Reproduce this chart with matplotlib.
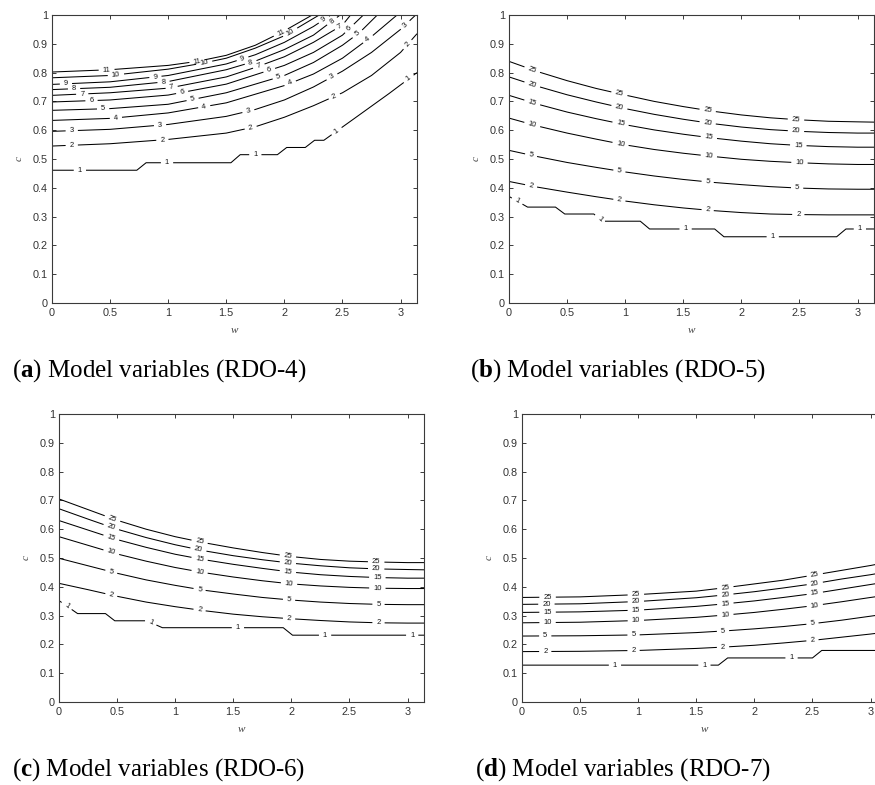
import numpy as np
import matplotlib
matplotlib.use('Agg')
import matplotlib.pyplot as plt
from matplotlib.contour import ContourSet

plt.rcParams['font.family'] = ['Liberation Sans', 'DejaVu Sans']
plt.rcParams['mathtext.fontset'] = 'custom'
plt.rcParams['mathtext.rm'] = 'Liberation Serif'
plt.rcParams['mathtext.it'] = 'Liberation Serif:italic'
plt.rcParams['mathtext.bf'] = 'Liberation Serif:bold'

W_END = np.pi
x_ticks = [0, 0.5, 1, 1.5, 2, 2.5, 3]
x_tick_labels = ['0', '0.5', '1', '1.5', '2', '2.5', '3']
y_ticks = [0, 0.1, 0.2, 0.3, 0.4, 0.5, 0.6, 0.7, 0.8, 0.9, 1]
y_tick_labels = ['0', '0.1', '0.2', '0.3', '0.4', '0.5', '0.6', '0.7', '0.8', '0.9', '1']
captions = ['a', 'b', 'c', 'd']
caption_models = ['RDO-4', 'RDO-5', 'RDO-6', 'RDO-7']

# (a) RDO-4 contour lines as (w, c) points
a_levels = [1, 2, 3, 4, 5, 6, 7, 8, 9, 10, 11]
a_lines = [
    ([0, 0.73, 0.81, 1.54, 1.62, 1.94, 2.02, 2.18, 2.26, 2.34, 2.6, 2.9, W_END],
     [0.461, 0.461, 0.487, 0.487, 0.515, 0.515, 0.540, 0.540, 0.565, 0.565, 0.64, 0.727, 0.80]),
    ([0, 0.5, 1.0, 1.5, 1.75, 2.0, 2.25, 2.5, 2.75, 3.0, W_END],
     [0.545, 0.553, 0.568, 0.59, 0.612, 0.645, 0.685, 0.73, 0.79, 0.87, 0.935]),
    ([0, 0.5, 1.0, 1.5, 1.75, 2.0, 2.25, 2.5, 2.75, 3.0, 3.13],
     [0.596, 0.603, 0.62, 0.648, 0.672, 0.705, 0.75, 0.805, 0.87, 0.95, 1.0]),
    ([0, 0.5, 1.0, 1.5, 2.0, 2.25, 2.5, 2.75, 2.97],
     [0.634, 0.641, 0.66, 0.695, 0.755, 0.795, 0.85, 0.925, 1.0]),
    ([0, 0.5, 1.0, 1.5, 2.0, 2.25, 2.5, 2.65, 2.80],
     [0.669, 0.675, 0.69, 0.73, 0.79, 0.835, 0.895, 0.94, 1.0]),
    ([0, 0.5, 1.0, 1.5, 2.0, 2.25, 2.5, 2.68],
     [0.698, 0.705, 0.722, 0.76, 0.825, 0.87, 0.93, 1.0]),
    ([0, 0.5, 1.0, 1.5, 1.75, 2.0, 2.25, 2.5, 2.57],
     [0.721, 0.73, 0.746, 0.785, 0.818, 0.855, 0.905, 0.965, 1.0]),
    ([0, 0.5, 1.0, 1.5, 1.75, 2.0, 2.25, 2.48],
     [0.741, 0.749, 0.769, 0.81, 0.84, 0.88, 0.93, 1.0]),
    ([0, 0.5, 1.0, 1.5, 1.75, 2.0, 2.25, 2.40],
     [0.759, 0.768, 0.79, 0.83, 0.862, 0.905, 0.96, 1.0]),
    ([0, 0.5, 1.0, 1.3, 1.5, 1.75, 2.0, 2.3],
     [0.782, 0.79, 0.812, 0.833, 0.85, 0.885, 0.928, 1.0]),
    ([0, 0.5, 1.0, 1.25, 1.5, 1.75, 2.0, 2.24],
     [0.802, 0.81, 0.825, 0.839, 0.86, 0.895, 0.945, 1.0]),
]
a_label_w = [
    [0.24, 0.99, 1.75, 2.45, 3.07],
    [0.17, 0.95, 1.71, 2.43, 3.06],
    [0.17, 0.93, 1.69, 2.41, 3.04],
    [0.55, 1.31, 2.05, 2.72],
    [0.44, 1.21, 1.95, 2.63],
    [0.34, 1.12, 1.87, 2.56],
    [0.26, 1.03, 1.78, 2.48],
    [0.19, 0.96, 1.71, 2.41],
    [0.12, 0.89, 1.64, 2.34],
    [0.55, 1.31, 2.05],
    [0.47, 1.25, 1.97],
]

# (b) RDO-5 and (c) RDO-6 share the w sampling of the smooth curves
w_bc = [0, 0.25, 0.5, 0.75, 1.0, 1.25, 1.5, 1.75, 2.0, 2.25, 2.5, 2.75, 3.0, W_END]

b_levels = [1, 2, 5, 10, 15, 20, 25]
b_lines = [
    ([0, 0.16, 0.40, 0.48, 0.73, 0.80, 1.13, 1.21, 1.77, 1.85, 2.82, 2.90, W_END],
     [0.37, 0.333, 0.333, 0.309, 0.309, 0.284, 0.284, 0.257, 0.257, 0.230, 0.230, 0.257, 0.257]),
    (w_bc, [0.422, 0.402, 0.385, 0.369, 0.354, 0.341, 0.33, 0.321, 0.314, 0.309, 0.307, 0.306, 0.306, 0.306]),
    (w_bc, [0.530, 0.508, 0.488, 0.471, 0.455, 0.441, 0.429, 0.419, 0.411, 0.404, 0.399, 0.396, 0.395, 0.395]),
    (w_bc, [0.642, 0.614, 0.59, 0.569, 0.549, 0.533, 0.52, 0.509, 0.499, 0.492, 0.487, 0.483, 0.481, 0.481]),
    (w_bc, [0.721, 0.69, 0.663, 0.64, 0.619, 0.601, 0.586, 0.573, 0.562, 0.553, 0.547, 0.543, 0.541, 0.541]),
    (w_bc, [0.785, 0.752, 0.723, 0.698, 0.675, 0.655, 0.638, 0.623, 0.611, 0.602, 0.596, 0.592, 0.590, 0.590]),
    (w_bc, [0.839, 0.803, 0.772, 0.745, 0.722, 0.70, 0.682, 0.666, 0.653, 0.643, 0.636, 0.631, 0.629, 0.628]),
]
b_label_w = [
    [0.07, 0.78, 1.52, 2.27, 3.02],
    [0.19, 0.95, 1.71, 2.49],
    [0.19, 0.95, 1.71, 2.48],
    [0.20, 0.96, 1.72, 2.50],
    [0.20, 0.96, 1.72, 2.49],
    [0.20, 0.95, 1.71, 2.47],
    [0.20, 0.95, 1.71, 2.47],
]

c_levels = [1, 2, 5, 10, 15, 20, 25]
c_lines = [
    ([0, 0.16, 0.40, 0.48, 0.755, 0.89, 1.93, 2.01, W_END],
     [0.352, 0.307, 0.307, 0.282, 0.282, 0.258, 0.258, 0.232, 0.232]),
    (w_bc, [0.412, 0.39, 0.367, 0.347, 0.331, 0.317, 0.305, 0.296, 0.289, 0.283, 0.278, 0.275, 0.274, 0.274]),
    (w_bc, [0.499, 0.473, 0.447, 0.424, 0.405, 0.388, 0.375, 0.363, 0.354, 0.347, 0.342, 0.339, 0.338, 0.338]),
    (w_bc, [0.574, 0.544, 0.514, 0.489, 0.467, 0.449, 0.434, 0.421, 0.41, 0.403, 0.398, 0.395, 0.394, 0.394]),
    (w_bc, [0.630, 0.597, 0.564, 0.537, 0.513, 0.494, 0.478, 0.464, 0.451, 0.442, 0.436, 0.432, 0.430, 0.430]),
    (w_bc, [0.671, 0.635, 0.60, 0.571, 0.546, 0.525, 0.508, 0.494, 0.482, 0.473, 0.466, 0.462, 0.460, 0.459]),
    (w_bc, [0.705, 0.668, 0.631, 0.60, 0.574, 0.553, 0.535, 0.519, 0.505, 0.495, 0.489, 0.486, 0.484, 0.484]),
]
c_label_w = [
    [0.066, 0.79, 1.54, 2.29, 3.04],
    [0.45, 1.21, 1.98, 2.75],
    [0.45, 1.21, 1.98, 2.75],
    [0.45, 1.21, 1.98, 2.74],
    [0.45, 1.21, 1.97, 2.74],
    [0.45, 1.20, 1.97, 2.73],
    [0.46, 1.21, 1.97, 2.73],
]

# (d) RDO-7
w_d = [0, 0.5, 1.0, 1.5, 1.75, 2.0, 2.25, 2.5, 2.75, 3.0, W_END]
d_levels = [1, 2, 5, 10, 15, 20, 25]
d_lines = [
    ([0, 1.69, 1.77, 2.50, 2.58, W_END], [0.128, 0.128, 0.153, 0.153, 0.179, 0.179]),
    (w_d, [0.175, 0.176, 0.179, 0.186, 0.191, 0.197, 0.205, 0.214, 0.225, 0.236, 0.243]),
    (w_d, [0.229, 0.230, 0.233, 0.241, 0.247, 0.254, 0.262, 0.272, 0.284, 0.298, 0.306]),
    (w_d, [0.275, 0.277, 0.283, 0.294, 0.302, 0.311, 0.322, 0.334, 0.348, 0.363, 0.371]),
    (w_d, [0.311, 0.313, 0.319, 0.332, 0.341, 0.351, 0.363, 0.376, 0.392, 0.408, 0.417]),
    (w_d, [0.339, 0.341, 0.349, 0.362, 0.372, 0.383, 0.396, 0.41, 0.427, 0.442, 0.452]),
    (w_d, [0.363, 0.365, 0.373, 0.385, 0.397, 0.41, 0.423, 0.44, 0.457, 0.474, 0.485]),
]
d_label_w = [
    [0.80, 1.57, 2.32],
    [0.20, 0.96, 1.73, 2.50],
    [0.20, 0.96, 1.73, 2.50],
    [0.22, 0.98, 1.75, 2.52],
    [0.22, 0.98, 1.75, 2.52],
    [0.21, 0.98, 1.75, 2.52],
    [0.22, 0.98, 1.75, 2.52],
]

panels = [
    (a_levels, a_lines, a_label_w),
    (b_levels, b_lines, b_label_w),
    (c_levels, c_lines, c_label_w),
    (d_levels, d_lines, d_label_w),
]

# axes boxes in pixels: left, top, width, height (figure 875 x 785)
FW, FH = 875, 785
boxes = [(52, 15, 365, 288), (509, 15, 365, 288), (59, 414, 365, 288), (522, 414, 365, 288)]
caption_xy = [(12, 377), (470, 377), (12, 776), (475, 776)]

fig = plt.figure(figsize=(FW / 100, FH / 100), dpi=100)
axis_grey = '#3a3a3a'

for i, (levels, lines, label_w) in enumerate(panels):
    l, t, w, h = boxes[i]
    ax = fig.add_axes([l / FW, 1 - (t + h) / FH, w / FW, h / FH])
    segs = [[np.column_stack([np.asarray(x, float), np.asarray(y, float)])] for x, y in lines]
    cs = ContourSet(ax, [float(v) for v in levels], segs, colors='k', linewidths=0.75)
    ax.set_xlim(0, W_END)
    ax.set_ylim(0, 1)
    ax.set_xticks(x_ticks)
    ax.set_xticklabels(x_tick_labels)
    ax.set_yticks(y_ticks)
    ax.set_yticklabels(y_tick_labels)
    ax.tick_params(direction='in', top=True, right=True, length=2.6, width=0.7,
                   color=axis_grey, labelcolor='#333333', labelsize=7.8)
    ax.tick_params(axis='x', pad=3.5)
    ax.tick_params(axis='y', pad=3)
    for sp in ax.spines.values():
        sp.set_color(axis_grey)
        sp.set_linewidth(0.8)
    ax.set_xlabel(r'$w$', fontsize=8, color='#444444')
    ax.set_ylabel(r'$c$', fontsize=8, color='#444444')
    ax.xaxis.set_label_coords(0.5, -0.078)
    ax.yaxis.set_label_coords(-0.077, 0.5)

    positions = []
    for (x, y), ws in zip(lines, label_w):
        for wl in ws:
            positions.append((wl, float(np.interp(wl, x, y))))
    ax.clabel(cs, manual=positions, inline=True, inline_spacing=4,
              fontsize=5.5, fmt='%d', colors='#111111')

    cx, cy = caption_xy[i]
    fig.text(cx / FW, 1 - cy / FH,
             r'($\mathbf{%s}$) Model variables (%s)' % (captions[i], caption_models[i]),
             fontfamily='Liberation Serif', fontsize=18, va='baseline', ha='left')

fig.savefig('out.png', dpi=100)
